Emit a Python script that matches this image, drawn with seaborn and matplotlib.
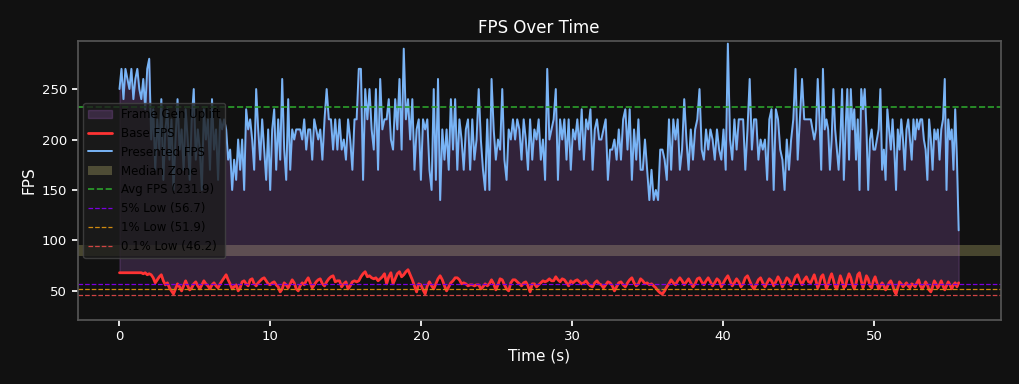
import numpy as np
import pandas as pd
import matplotlib
matplotlib.use("Agg")
import matplotlib.pyplot as plt
import seaborn as sns

# time span of each stretch of samples (s)
seg_edges = [0.0, 2.1, 6.8, 13.3, 29.9, 45.8, 55.6]

# presented fps, read stretch by stretch
pres_a = [250, 270, 240, 270, 260, 250, 270, 240, 260, 270, 250, 240, 260, 230, 270, 280]
pres_b = [200, 230, 170, 220, 190, 240, 160, 210, 230, 180, 220, 150, 200, 240, 190, 210, 170, 230,
          200, 160, 220, 250, 180, 210, 190, 150, 230, 200, 220, 170, 240, 190, 210, 160, 220]
pres_c = [210, 220, 210, 180, 190, 150, 180, 160, 200, 170, 200, 150, 230, 210, 220, 200, 170, 250,
          210, 180, 220, 190, 160, 210, 150, 210, 230, 170, 220, 180, 260, 190, 160, 240, 170, 210,
          200, 210, 210, 210, 200, 220, 190, 210, 210, 180, 220, 210, 200]
pres_d = [210, 180, 220, 250, 220, 220, 190, 220, 190, 220, 190, 200, 180, 220, 200, 170, 220, 220,
          270, 270, 160, 250, 220, 250, 210, 190, 250, 170, 260, 210, 220, 220, 240, 200, 190, 240,
          210, 260, 190, 290, 220, 240, 200, 240, 170, 210, 220, 160, 220, 210, 220, 170, 150, 250,
          160, 260, 140, 210, 180, 210, 170, 240, 190, 240, 170, 220, 200, 170, 210, 220, 170, 220,
          180, 200, 250, 200, 170, 150, 220, 150, 260, 210, 180, 200, 190, 250, 180, 160, 210, 200,
          220, 200, 220, 210, 180, 220, 200, 170, 220, 180, 210, 200, 220, 180, 200, 160, 270, 200,
          210, 220, 250, 160, 220, 200, 220, 180, 220]
pres_e = [170, 210, 200, 220, 190, 230, 180, 220, 210, 230, 170, 210, 220, 200, 200, 210, 220, 160,
          190, 190, 200, 180, 210, 180, 220, 230, 190, 230, 160, 210, 180, 220, 170, 170, 200, 170,
          140, 170, 140, 150, 140, 190, 190, 180, 160, 220, 170, 220, 200, 220, 170, 190, 240, 200,
          170, 210, 180, 210, 220, 250, 190, 180, 210, 190, 210, 200, 180, 210, 190, 180, 210, 170,
          295, 200, 180, 220, 190, 220, 220, 220, 170, 210, 260, 190, 220, 220, 180, 200, 190, 200,
          160, 220, 230, 150, 230, 220, 190, 180, 150, 200, 170, 200, 220, 270, 180, 220, 260, 220,
          220, 220]
pres_f = [220, 210, 200, 210, 260, 220, 170, 270, 210, 220, 210, 170, 200, 250, 210, 190, 170, 200,
          250, 160, 210, 250, 180, 250, 210, 230, 180, 220, 150, 250, 230, 250, 210, 150, 200, 210,
          190, 190, 200, 210, 250, 170, 190, 160, 230, 210, 190, 220, 190, 150, 210, 190, 220, 200,
          170, 210, 220, 200, 180, 220, 200, 220, 210, 220, 220, 200, 190, 160, 220, 200, 170, 210,
          200, 210, 180, 210, 220, 260, 150, 220, 200, 210, 170, 230, 180, 110]

# base (rendered) fps, same samples
base_a = [68, 68, 68, 68, 68, 68, 68, 68, 68, 68, 68, 68, 67, 68, 66, 67]
base_b = [66, 63, 58, 61, 64, 66, 60, 56, 58, 53, 50, 47, 52, 57, 54, 50, 55, 60, 55, 51, 53, 57,
          59, 55, 52, 56, 60, 57, 55, 52, 56, 58, 55, 53, 57]
base_c = [60, 63, 66, 61, 57, 52, 54, 56, 50, 53, 59, 60, 57, 55, 61, 62, 57, 55, 58, 60, 62, 63,
          60, 57, 56, 58, 59, 56, 54, 49, 52, 58, 56, 53, 57, 61, 58, 52, 50, 55, 58, 56, 60, 63,
          58, 53, 56, 59, 61]
base_d = [62, 57, 55, 59, 62, 64, 65, 59, 60, 60, 54, 57, 59, 52, 55, 59, 60, 59, 60, 64, 67, 69,
          64, 65, 63, 62, 63, 60, 62, 64, 67, 57, 64, 68, 57, 62, 67, 69, 64, 66, 69, 71, 66, 61,
          55, 49, 57, 56, 51, 47, 55, 59, 55, 52, 57, 62, 65, 61, 55, 50, 54, 58, 60, 63, 63, 61,
          57, 58, 57, 55, 56, 56, 55, 56, 56, 52, 54, 57, 55, 57, 61, 57, 51, 56, 62, 61, 56, 52,
          50, 58, 61, 61, 59, 57, 55, 58, 59, 55, 49, 57, 57, 54, 56, 58, 60, 59, 60, 62, 60, 60,
          64, 61, 59, 62, 61, 58, 55]
base_e = [60, 58, 60, 61, 59, 57, 58, 60, 57, 55, 54, 58, 60, 57, 56, 53, 56, 59, 58, 55, 50, 54,
          58, 59, 56, 54, 58, 61, 63, 58, 55, 57, 62, 60, 57, 58, 56, 57, 55, 53, 50, 48, 47, 50,
          54, 57, 61, 58, 56, 60, 63, 60, 56, 59, 62, 58, 54, 57, 62, 63, 59, 56, 60, 63, 59, 55,
          58, 62, 60, 54, 58, 62, 65, 60, 55, 58, 62, 59, 54, 57, 63, 65, 60, 55, 52, 56, 61, 63,
          58, 54, 58, 62, 60, 55, 59, 64, 60, 54, 58, 63, 61, 55, 58, 64, 66, 60, 56, 61, 64, 59]
base_f = [58, 62, 66, 60, 53, 57, 64, 66, 59, 52, 56, 63, 67, 61, 54, 52, 58, 65, 60, 53, 55, 62,
          67, 63, 56, 52, 57, 66, 68, 60, 53, 58, 65, 62, 55, 53, 60, 64, 58, 52, 55, 58, 55, 51,
          54, 58, 60, 56, 50, 47, 53, 59, 57, 54, 56, 58, 55, 53, 57, 56, 54, 58, 61, 55, 52, 55,
          59, 56, 51, 49, 54, 60, 57, 53, 56, 60, 55, 51, 55, 59, 56, 52, 56, 58, 54, 58]

avg_fps = 231.9
low_5 = 56.7
low_1 = 51.9
low_01 = 46.2
median_zone = (85, 95)

pres_segs = [pres_a, pres_b, pres_c, pres_d, pres_e, pres_f]
base_segs = [base_a, base_b, base_c, base_d, base_e, base_f]

times = []
for i, seg in enumerate(pres_segs):
    last = i == len(pres_segs) - 1
    times.append(np.linspace(seg_edges[i], seg_edges[i + 1], len(seg), endpoint=last))

df = pd.DataFrame({
    "time": np.concatenate(times),
    "presented": np.concatenate(pres_segs).astype(float),
    "base": np.concatenate(base_segs).astype(float),
})

sns.set_theme(style="dark")
plt.rcParams["font.family"] = ["DejaVu Sans"]

bg = "#111111"
fig, ax = plt.subplots(figsize=(10.2, 3.84), dpi=100)
fig.patch.set_facecolor(bg)
ax.set_facecolor(bg)

# uplift area sits above the median band
ax.fill_between(df["time"], df["base"], df["presented"], color="#bb70e3", alpha=0.2,
                edgecolor="#bb70e3", label="Frame Gen Uplift", zorder=1.5)
sns.lineplot(data=df, x="time", y="base", ax=ax, color="#ff3333", linewidth=2.0, label="Base FPS")
sns.lineplot(data=df, x="time", y="presented", ax=ax, color="#78b4f5", linewidth=1.4,
             label="Presented FPS")
ax.axhspan(median_zone[0], median_zone[1], color="khaki", alpha=0.25, linewidth=0,
           label="Median Zone", zorder=1)
ax.axhline(avg_fps, color="#2ca02c", linestyle="--", linewidth=1.2, label=f"Avg FPS ({avg_fps})")
ax.axhline(low_5, color="#7a00e0", linestyle="--", linewidth=0.9, label=f"5% Low ({low_5})")
ax.axhline(low_1, color="#d08a10", linestyle="--", linewidth=0.9, label=f"1% Low ({low_1})")
ax.axhline(low_01, color="#d04444", linestyle="--", linewidth=0.9, label=f"0.1% Low ({low_01})")

ax.set_ylim(21.3, 297.5)
ax.set_title("FPS Over Time", color="white", fontsize=12)
ax.set_xlabel("Time (s)", color="white", fontsize=11)
ax.set_ylabel("FPS", color="white", fontsize=11)
ax.tick_params(colors="white", labelsize=9.5, left=True, bottom=True, length=4)
for s in ax.spines.values():
    s.set_color("#555555")
ax.grid(False)

leg = ax.legend(loc="center left", fontsize=8.5, facecolor="#1c1c1c", edgecolor="#444444",
                framealpha=0.8, labelcolor="black")

fig.subplots_adjust(left=0.076, right=0.981, top=0.893, bottom=0.167)
fig.savefig("out.png", dpi=100, facecolor=bg)
